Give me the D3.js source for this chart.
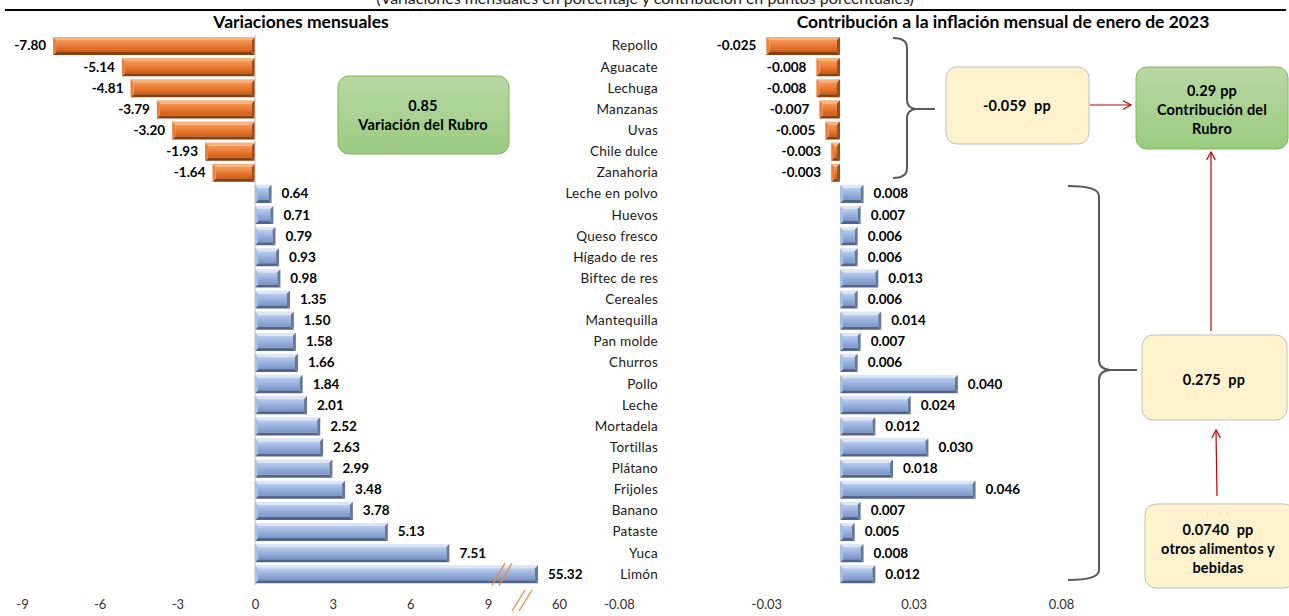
<!DOCTYPE html>
<html>
<head>
<meta charset="utf-8">
<script src="https://cdn.jsdelivr.net/npm/d3@7"></script>
<style>
  html, body { margin: 0; padding: 0; background: #ffffff; }
  svg { display: block; font-family: Lato, "Open Sans", sans-serif; }
</style>
</head>
<body>
<svg id="chart" width="1289" height="616"></svg>
<script>
// ---------------- DATA ----------------
const categories = ["Repollo","Aguacate","Lechuga","Manzanas","Uvas","Chile dulce","Zanahoria",
  "Leche en polvo","Huevos","Queso fresco","Hígado de res","Biftec de res","Cereales","Mantequilla",
  "Pan molde","Churros","Pollo","Leche","Mortadela","Tortillas","Plátano","Frijoles","Banano",
  "Pataste","Yuca","Limón"];
const variaciones = [-7.80,-5.14,-4.81,-3.79,-3.20,-1.93,-1.64,
  0.64,0.71,0.79,0.93,0.98,1.35,1.50,1.58,1.66,1.84,2.01,2.52,2.63,2.99,3.48,3.78,5.13,7.51,55.32];
const contribuciones = [-0.025,-0.008,-0.008,-0.007,-0.005,-0.003,-0.003,
  0.008,0.007,0.006,0.006,0.013,0.006,0.014,0.007,0.006,0.040,0.024,0.012,0.030,0.018,0.046,0.007,0.005,0.008,0.012];
const leftTicks = [-9,-6,-3,0,3,6,9,60];
const leftTickLabels = ["-9","-6","-3","0","3","6","9","60"];
const rightTicks = [-0.075,-0.025,0.025,0.075];
const rightTickLabels = ["-0.08","-0.03","0.03","0.08"];
const subtitle = "(Variaciones mensuales en porcentaje y contribución en puntos porcentuales)";
const titleLeft = "Variaciones mensuales";
const titleRight = "Contribución a la inflación mensual de enero de 2023";
const boxRubroVar = ["0.85","Variación del Rubro"];
const boxNeg = ["-0.059  pp"];
const boxRubroContrib = ["0.29 pp","Contribución del","Rubro"];
const boxPos = ["0.275  pp"];
const boxOtros = ["0.0740  pp","otros alimentos y","bebidas"];

// ---------------- SETUP ----------------
const svg = d3.select("#chart");
const defs = svg.append("defs");

function vGrad(id, stops) {
  const g = defs.append("linearGradient").attr("id", id).attr("x1",0).attr("y1",0).attr("x2",0).attr("y2",1);
  stops.forEach(s => g.append("stop").attr("offset", s[0]).attr("stop-color", s[1]));
}
vGrad("orCenter", [[0,"#f39a5a"],[0.35,"#ee833f"],[0.7,"#e26d24"],[1,"#c95e1c"]]);
vGrad("blCenter", [[0,"#bccdec"],[0.35,"#a2b9e3"],[0.7,"#8ba5d6"],[1,"#7d96c6"]]);
vGrad("greenBox", [[0,"#b8d8a4"],[1,"#9bcb80"]]);

const palettes = {
  neg: {top:"#f8b27c", bottom:"#8a3d0d", left:"#e9803f", right:"#a44a12", center:"url(#orCenter)"},
  pos: {top:"#dbe5f5", bottom:"#52658c", left:"#aabee3", right:"#62789f", center:"url(#blCenter)"}
};

// y band
const y = d3.scaleBand().domain(categories).range([35.4, 584.8]).paddingInner(0.14).paddingOuter(0.07);

// left scale (with axis break between 9 and 60)
const xL = d3.scaleLinear().domain([-9, 9, 60]).range([22, 488, 543]);
// right scale
const xR = d3.scaleLinear().domain([-0.075, 0.075]).range([619, 1061]);

function bevelBar(g, xa, xb, y0, h, pal) {
  const x0 = Math.min(xa, xb), x1 = Math.max(xa, xb), y1 = y0 + h;
  const b = Math.min(3, (x1 - x0) / 3);
  const pts = a => a.map(p => p.join(",")).join(" ");
  g.append("rect").attr("x", x0 + b).attr("y", y0 + b).attr("width", Math.max(0, x1 - x0 - 2*b))
    .attr("height", h - 2*b).attr("fill", pal.center);
  g.append("polygon").attr("points", pts([[x0,y0],[x1,y0],[x1-b,y0+b],[x0+b,y0+b]])).attr("fill", pal.top);
  g.append("polygon").attr("points", pts([[x0,y1],[x1,y1],[x1-b,y1-b],[x0+b,y1-b]])).attr("fill", pal.bottom);
  g.append("polygon").attr("points", pts([[x0,y0],[x0+b,y0+b],[x0+b,y1-b],[x0,y1]])).attr("fill", pal.left);
  g.append("polygon").attr("points", pts([[x1,y0],[x1-b,y0+b],[x1-b,y1-b],[x1,y1]])).attr("fill", pal.right);
}

// ---------------- HEADER ----------------
svg.append("text").attr("x", 645).attr("y", 4).attr("text-anchor","middle")
  .attr("font-size", 16).attr("fill", "#222").text(subtitle);
svg.append("line").attr("x1", 5).attr("x2", 1286).attr("y1", 10).attr("y2", 10)
  .attr("stroke", "#000").attr("stroke-width", 2);
svg.append("text").attr("x", 301).attr("y", 28).attr("text-anchor","middle")
  .attr("font-size", 17.5).attr("font-weight", "bold").attr("fill","#000").text(titleLeft);
svg.append("text").attr("x", 1003).attr("y", 28).attr("text-anchor","middle")
  .attr("font-size", 17.5).attr("font-weight", "bold").attr("fill","#000").text(titleRight);

// ---------------- LEFT CHART ----------------
const gL = svg.append("g");
categories.forEach((c, i) => {
  const v = variaciones[i];
  bevelBar(gL.append("g"), xL(0), xL(v), y(c), y.bandwidth(), v < 0 ? palettes.neg : palettes.pos);
});
gL.append("line").attr("x1", xL(0)).attr("x2", xL(0)).attr("y1", 35).attr("y2", 585)
  .attr("stroke", "#bfbfbf").attr("stroke-width", 1);
gL.selectAll("text.vl").data(categories).join("text").attr("class","vl")
  .attr("x", (c,i) => variaciones[i] < 0 ? xL(variaciones[i]) - 7 : xL(variaciones[i]) + 10)
  .attr("y", c => y(c) + y.bandwidth()/2 + 4.5)
  .attr("text-anchor", (c,i) => variaciones[i] < 0 ? "end" : "start")
  .attr("font-size", 13.5).attr("font-weight","bold").attr("fill","#000")
  .text((c,i) => variaciones[i].toFixed(2));

// left axis
const axL = d3.axisBottom(xL).tickValues(leftTicks).tickSize(0)
  .tickFormat((d,i) => leftTickLabels[i]);
const gAxL = svg.append("g").attr("transform", "translate(0,597)").call(axL);
gAxL.select(".domain").remove();
gAxL.selectAll("text").attr("font-size", 13).attr("fill", "#333").attr("font-family", "Lato, sans-serif")
  .attr("dx", d => d === 60 ? 16 : 0);

// break marks (on Limón bar and on axis)
const brk = svg.append("g").attr("stroke", "#f08a3c").attr("stroke-width", 1.3).attr("fill","none");
const lim = categories[categories.length - 1];
const bx = xL(9) + 4, byTop = y(lim) - 2, byBot = y(lim) + y.bandwidth() + 2;
[0, 7].forEach(o => brk.append("line").attr("x1", bx + o).attr("y1", byBot).attr("x2", bx + o + 13).attr("y2", byTop));
[0, 7].forEach(o => brk.append("line").attr("x1", bx + 20 + o).attr("y1", 611).attr("x2", bx + 33 + o).attr("y2", 590));

// category labels
svg.selectAll("text.cat").data(categories).join("text").attr("class","cat")
  .attr("x", 658).attr("y", c => y(c) + y.bandwidth()/2 + 4.5)
  .attr("text-anchor","end").attr("font-size", 13.5).attr("letter-spacing", 0.25)
  .attr("fill","#1a1a1a").text(c => c);

// ---------------- RIGHT CHART ----------------
const gR = svg.append("g");
categories.forEach((c, i) => {
  const v = contribuciones[i];
  bevelBar(gR.append("g"), xR(0), xR(v), y(c), y.bandwidth(), v < 0 ? palettes.neg : palettes.pos);
});
gR.selectAll("text.vr").data(categories).join("text").attr("class","vr")
  .attr("x", (c,i) => contribuciones[i] < 0 ? xR(contribuciones[i]) - 10 : xR(contribuciones[i]) + 10)
  .attr("y", c => y(c) + y.bandwidth()/2 + 4.5)
  .attr("text-anchor", (c,i) => contribuciones[i] < 0 ? "end" : "start")
  .attr("font-size", 13.5).attr("font-weight","bold").attr("fill","#000")
  .text((c,i) => contribuciones[i].toFixed(3));

const axR = d3.axisBottom(xR).tickValues(rightTicks).tickSize(0)
  .tickFormat((d,i) => rightTickLabels[i]);
const gAxR = svg.append("g").attr("transform", "translate(0,597)").call(axR);
gAxR.select(".domain").remove();
gAxR.selectAll("text").attr("font-size", 13).attr("fill", "#333").attr("font-family", "Lato, sans-serif");

// ---------------- ANNOTATIONS ----------------
function box(x, yy, w, h, fill, stroke, lines, cx, baselines) {
  svg.append("rect").attr("x", x).attr("y", yy).attr("width", w).attr("height", h)
    .attr("rx", 11).attr("fill", fill).attr("stroke", stroke).attr("stroke-width", 1);
  lines.forEach((t, i) => svg.append("text").attr("x", cx).attr("y", baselines[i])
    .attr("text-anchor","middle").attr("font-size", 14.5).attr("font-weight","bold").attr("fill","#000")
    .attr("letter-spacing", 0.2)
    .attr("xml:space","preserve").style("white-space","pre").text(t));
}
box(338, 76, 171, 78, "url(#greenBox)", "#7fb55a", boxRubroVar, 423, [111, 130]);
box(946, 67, 143, 77, "#fff2cc", "#bfbfbf", boxNeg, 1017, [111]);
box(1136, 67, 152, 82, "url(#greenBox)", "#7fb55a", boxRubroContrib, 1212, [96, 115, 134]);
box(1142, 335, 145, 85, "#fff2cc", "#bfbfbf", boxPos, 1214, [385]);
box(1145, 504, 150, 84, "#fff2cc", "#bfbfbf", boxOtros, 1218, [535, 554, 573]);

// braces
const brace = svg.append("g").attr("fill","none").attr("stroke","#595959").attr("stroke-width", 2);
brace.append("path").attr("d",
  "M893,38 Q907,38 907,48 L907,100 Q907,108 916,109 L935,109 M916,109 Q907,110 907,118 L907,168 Q907,178 893,178");
brace.append("path").attr("d",
  "M1068,186 Q1099,186 1099,196 L1099,360 Q1099,369 1110,370 L1137,370 M1110,370 Q1099,371 1099,380 L1099,570 Q1099,580 1068,580");

// arrows
const red = "#c00000";
const arrows = svg.append("g").attr("stroke", red).attr("stroke-width", 1.2).attr("fill","none");
function arrow(x1, y1, x2, y2) {
  arrows.append("line").attr("x1", x1).attr("y1", y1).attr("x2", x2).attr("y2", y2);
  const a = Math.atan2(y2 - y1, x2 - x1), L = 9, W = 0.5;
  const p1 = [x2 - L*Math.cos(a - W), y2 - L*Math.sin(a - W)];
  const p2 = [x2 - L*Math.cos(a + W), y2 - L*Math.sin(a + W)];
  arrows.append("path").attr("d", `M${p1[0]},${p1[1]} L${x2},${y2} L${p2[0]},${p2[1]}`);
}
arrow(1090, 105, 1131, 105);
arrow(1211, 331, 1211, 152);
arrow(1217, 496, 1216, 430);
</script>
</body>
</html>
